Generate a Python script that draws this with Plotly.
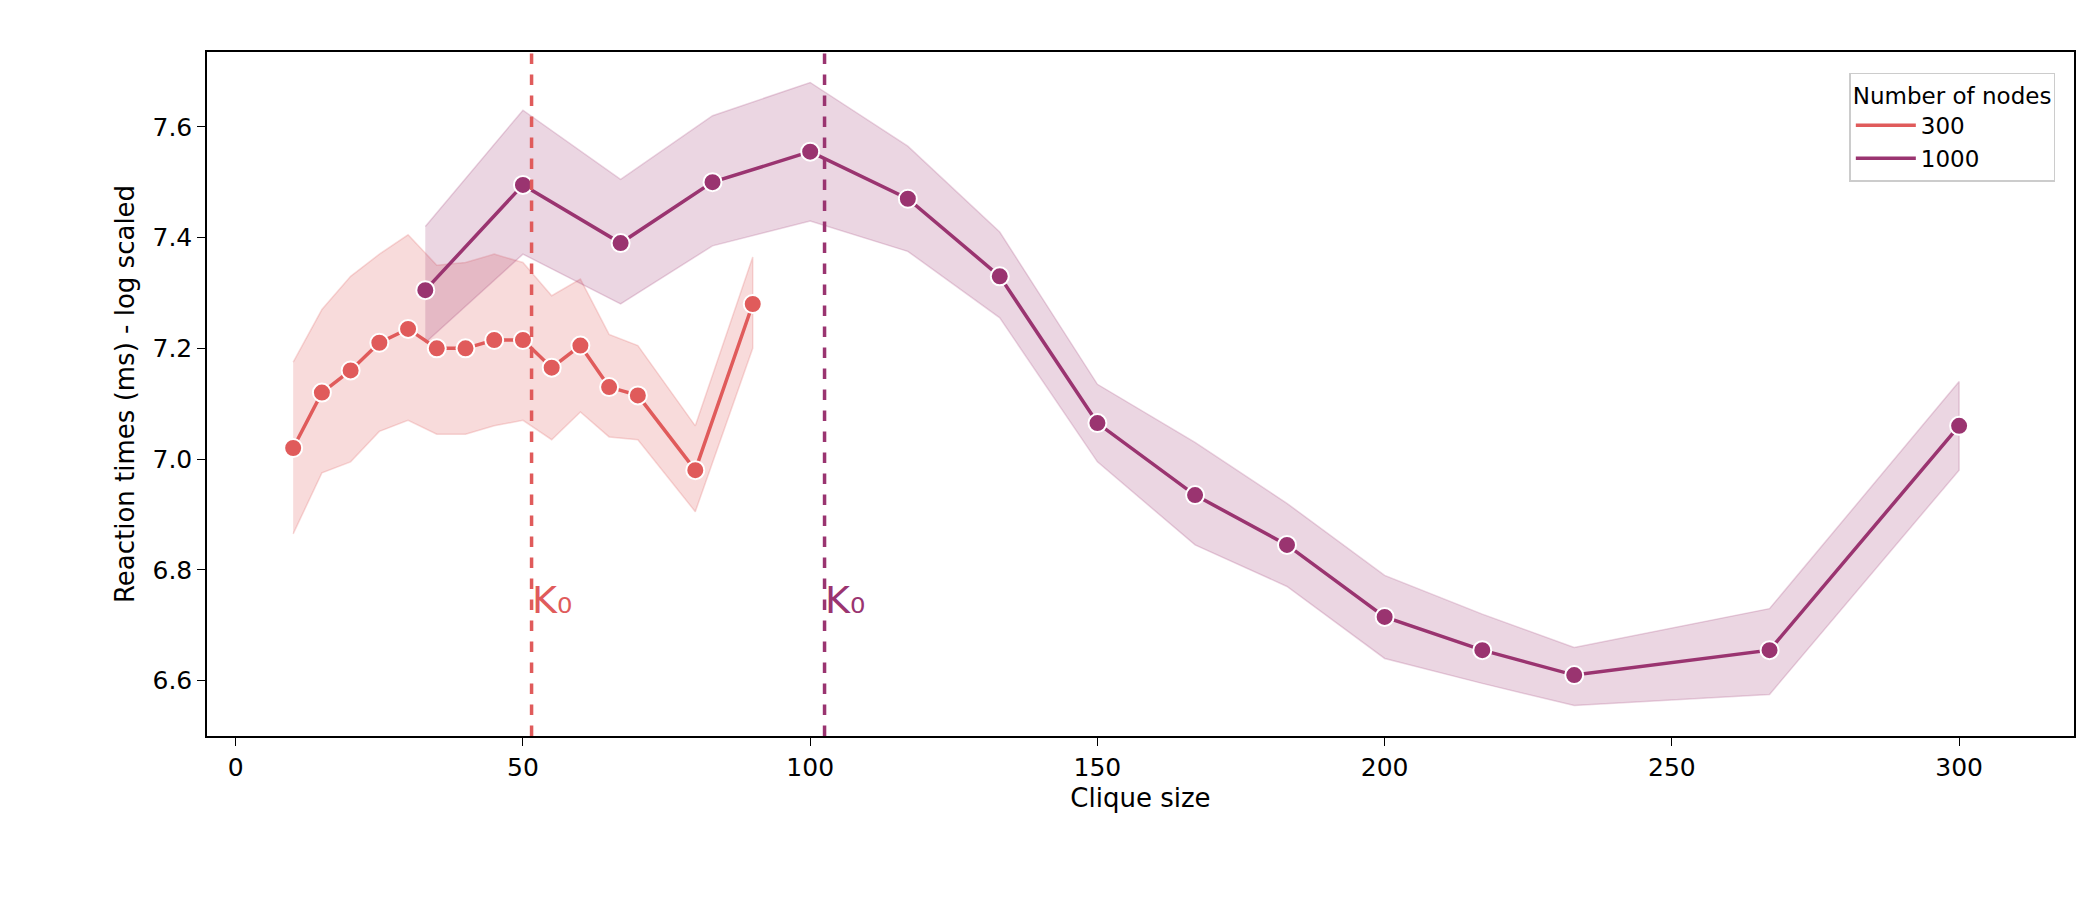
import plotly.graph_objects as go

x300 = [10, 15, 20, 25, 30, 35, 40, 45, 50, 55, 60, 65, 70, 80, 90]
y300 = [7.02, 7.12, 7.16, 7.21, 7.235, 7.20, 7.20, 7.215, 7.215, 7.165, 7.205, 7.13, 7.115, 6.98, 7.28]
lo300 = [6.865, 6.975, 6.995, 7.05, 7.07, 7.045, 7.045, 7.06, 7.07, 7.035, 7.085, 7.04, 7.035, 6.905, 7.20]
hi300 = [7.175, 7.27, 7.33, 7.37, 7.405, 7.35, 7.355, 7.37, 7.355, 7.295, 7.325, 7.225, 7.205, 7.06, 7.365]

x1000 = [33, 50, 67, 83, 100, 117, 133, 150, 167, 183, 200, 217, 233, 267, 300]
y1000 = [7.305, 7.495, 7.39, 7.50, 7.555, 7.47, 7.33, 7.065, 6.935, 6.845, 6.715, 6.655, 6.61, 6.655, 7.06]
lo1000 = [7.21, 7.37, 7.28, 7.385, 7.43, 7.375, 7.255, 6.995, 6.845, 6.77, 6.64, 6.595, 6.555, 6.575, 6.98]
hi1000 = [7.42, 7.63, 7.505, 7.62, 7.68, 7.565, 7.41, 7.135, 7.03, 6.92, 6.79, 6.72, 6.66, 6.73, 7.14]

k0 = {"300": 51.5, "1000": 102.5}
colors = {"300": "#e05b5b", "1000": "#9a3470"}
fills = {"300": "rgba(224,91,91,0.22)", "1000": "rgba(154,52,112,0.2)"}

series = [("300", x300, y300, lo300, hi300), ("1000", x1000, y1000, lo1000, hi1000)]

fig = go.Figure()
for name, x, y, lo, hi in series:
    fig.add_trace(go.Scatter(x=x + x[::-1], y=hi + lo[::-1], fill="toself",
                             fillcolor=fills[name], line=dict(color=fills[name], width=1.5),
                             showlegend=False, hoverinfo="skip"))
for name, x, y, lo, hi in series:
    fig.add_trace(go.Scatter(x=x, y=y, mode="lines+markers", name=name, showlegend=False,
                             line=dict(color=colors[name], width=3.5),
                             marker=dict(size=18, color=colors[name], line=dict(color="white", width=2))))
    # legend entry: line only, like the reference
    fig.add_trace(go.Scatter(x=[None], y=[None], mode="lines", name=name,
                             line=dict(color=colors[name], width=3.5)))
for name, xv in k0.items():
    fig.add_shape(type="line", x0=xv, x1=xv, y0=0, y1=1, yref="paper",
                  line=dict(color=colors[name], width=3.5, dash="dash"))
    fig.add_annotation(x=xv, y=6.745, text="K₀", showarrow=False, xanchor="left", xshift=-2,
                       font=dict(size=38, color=colors[name]))

axis = dict(showline=True, linecolor="black", linewidth=1.5, mirror=True, ticks="outside",
            ticklen=8, tickcolor="black", showgrid=False, zeroline=False,
            tickfont=dict(size=25, color="black"))
fig.update_xaxes(**axis, range=[-5, 320], tickvals=[0, 50, 100, 150, 200, 250, 300],
                 title=dict(text="Clique size", font=dict(size=26, color="black"), standoff=8))
fig.update_yaxes(**axis, range=[6.5, 7.735], tickvals=[6.6, 6.8, 7.0, 7.2, 7.4, 7.6],
                 tickformat=".1f",
                 title=dict(text="Reaction times (ms) - log scaled", font=dict(size=26, color="black"), standoff=10))
fig.update_layout(
    width=2100, height=900, plot_bgcolor="white", paper_bgcolor="white",
    font=dict(family="DejaVu Sans", color="black"),
    margin=dict(l=199, r=34, t=44, b=172),
    legend=dict(x=0.99, y=0.97, xanchor="right", yanchor="top",
                title=dict(text="Number of nodes", font=dict(size=23, color="black")),
                font=dict(size=23, color="black"), bordercolor="#cccccc", borderwidth=1.5,
                bgcolor="rgba(255,255,255,0.8)", itemwidth=60),
)
fig.write_html("out.html")
